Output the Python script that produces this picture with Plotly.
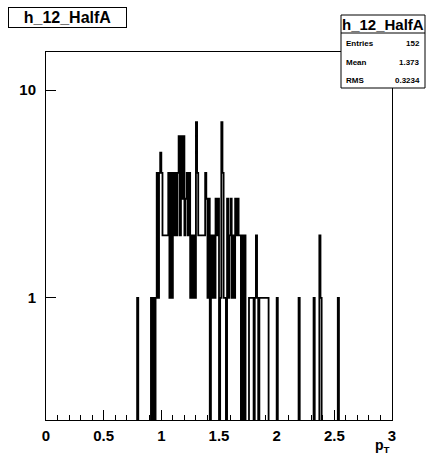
import plotly.graph_objects as go
import numpy as np

# ------------------------------------------------------------------------
# Histogram contents (bin width 0.01, range 0..3)

hist_name = "h_12_HalfA"
bin_width = 0.01
x_min, x_max = 0.0, 3.0

bin_low = [0.79, 0.91, 0.93, 0.95, 0.96, 0.97, 0.98, 0.99, 1.00, 1.01, 1.02, 1.03, 1.04, 1.05,
           1.06, 1.07, 1.08, 1.09, 1.10, 1.11, 1.12, 1.13, 1.14, 1.15, 1.16, 1.17, 1.18, 1.19,
           1.20, 1.21, 1.22, 1.23, 1.24, 1.25, 1.26, 1.27, 1.28, 1.29, 1.30, 1.31, 1.32, 1.33,
           1.34, 1.35, 1.36, 1.37, 1.38, 1.39, 1.40, 1.41, 1.43, 1.44, 1.45, 1.46, 1.47, 1.48,
           1.49, 1.51, 1.52, 1.53, 1.54, 1.55, 1.57, 1.58, 1.59, 1.60, 1.61, 1.62, 1.63, 1.64,
           1.65, 1.66, 1.67, 1.68, 1.70, 1.72, 1.76, 1.77, 1.78, 1.79, 1.81, 1.82, 1.83, 1.85,
           1.86, 1.87, 1.88, 1.89, 1.90, 1.91, 1.92, 2.00, 2.19, 2.32, 2.37, 2.38, 2.53]
bin_count = [1, 1, 1, 1, 4, 1, 4, 5, 4, 2, 2, 2, 2, 2,
             4, 1, 4, 1, 4, 2, 4, 2, 4, 6, 2, 6, 3, 6,
             2, 3, 4, 2, 4, 1, 2, 1, 2, 1, 7, 4, 2, 2,
             2, 2, 2, 2, 4, 3, 1, 3, 2, 1, 2, 1, 3, 2,
             3, 1, 7, 4, 1, 1, 3, 1, 2, 3, 1, 2, 1, 3,
             2, 3, 2, 2, 2, 2, 1, 1, 1, 1, 1, 2, 1, 1,
             1, 1, 1, 1, 1, 1, 1, 1, 1, 1, 2, 1, 1]

stat_labels = ["Entries", "Mean", "RMS"]
stat_values = ["152", "1.373", "0.3234"]

x_tick_vals = [0, 0.5, 1, 1.5, 2, 2.5, 3]
x_tick_text = ["0", "0.5", "1", "1.5", "2", "2.5", "3"]
y_tick_vals = [1, 10]
y_tick_text = ["1", "10"]

# ------------------------------------------------------------------------

W, H = 426, 459
# frame edges in pixels: left 46, right 392, top 52, bottom 420
m_l, m_r, m_t, m_b = 46, 426 - 392, 52, 459 - 420
pw, ph = W - m_l - m_r, H - m_t - m_b


def px(xpix):
    # pixel -> paper x
    return (xpix - m_l) / pw


def py(ypix):
    # pixel -> paper y
    return (H - m_b - ypix) / ph


n_bins = int(round((x_max - x_min) / bin_width))
counts = np.zeros(n_bins)
for lo, c in zip(bin_low, bin_count):
    counts[int(round((lo - x_min) / bin_width))] = c

edges = x_min + np.arange(n_bins + 1) * bin_width
y_draw = np.where(counts > 0, counts, 1e-3)  # empty bins fall below the frame
y_draw = np.append(y_draw, y_draw[-1])

fig = go.Figure()
fig.add_trace(go.Scatter(x=edges, y=y_draw, mode="lines", line_shape="hv",
                         line=dict(color="black", width=1.8), hoverinfo="skip", showlegend=False))

font_main = "Liberation Sans, Arial, sans-serif"

fig.update_layout(
    width=W, height=H,
    margin=dict(l=m_l, r=m_r, t=m_t, b=m_b, autoexpand=False),
    paper_bgcolor="white", plot_bgcolor="white",
    showlegend=False,
    font=dict(family=font_main, color="black"),
    xaxis=dict(range=[x_min, x_max], showgrid=False, zeroline=False,
               showline=True, linecolor="black", linewidth=1, mirror=True,
               ticks="inside", ticklen=10, tickwidth=1, tickcolor="black",
               tickvals=x_tick_vals, ticktext=["<b>%s</b>" % t for t in x_tick_text],
               tickfont=dict(size=15), ticklabelstandoff=2,
               minor=dict(tickvals=[round(0.1 * i, 1) for i in range(31)], ticklen=5,
                          ticks="inside", tickcolor="black")),
    yaxis=dict(type="log", range=[-0.587, 1.183], showgrid=False, zeroline=False,
               showline=True, linecolor="black", linewidth=1, mirror=True,
               ticks="inside", ticklen=10, tickwidth=1, tickcolor="black",
               tickvals=y_tick_vals, ticktext=["<b>%s</b>" % t for t in y_tick_text],
               tickfont=dict(size=15), ticklabelstandoff=6),
)

# title box top left
fig.add_annotation(xref="paper", yref="paper", x=px(67.5), y=py(17), xanchor="center", yanchor="middle",
                   text="<b>%s</b>" % hist_name, showarrow=False, font=dict(size=16), width=115, height=17,
                   bordercolor="black", borderwidth=1, borderpad=1, bgcolor="white")

# stats box
box_l, box_r, box_t, box_b, box_mid = 341, 425, 15, 88, 33
fig.add_shape(type="rect", xref="paper", yref="paper", x0=px(box_l), x1=px(box_r),
              y0=py(box_b), y1=py(box_t), line=dict(color="black", width=1), fillcolor="white")
fig.add_shape(type="line", xref="paper", yref="paper", x0=px(box_l), x1=px(box_r),
              y0=py(box_mid), y1=py(box_mid), line=dict(color="black", width=1))
fig.add_annotation(xref="paper", yref="paper", x=px((box_l + box_r) / 2), y=py(24.5),
                   xanchor="center", yanchor="middle",
                   text="<b>%s</b>" % hist_name, showarrow=False, font=dict(size=15))
for i, (lab, val) in enumerate(zip(stat_labels, stat_values)):
    yrow = 44 + i * 18
    fig.add_annotation(xref="paper", yref="paper", x=px(344), y=py(yrow), xanchor="left", yanchor="middle",
                       text="<b>%s</b>" % lab, showarrow=False, font=dict(size=8))
    fig.add_annotation(xref="paper", yref="paper", x=px(422), y=py(yrow), xanchor="right", yanchor="middle",
                       text="<b>%s</b>" % val, showarrow=False, font=dict(size=8))

# axis title
fig.add_annotation(xref="paper", yref="paper", x=px(392), y=py(446), xanchor="right", yanchor="middle",
                   text="<b>p<sub>T</sub></b>", showarrow=False, font=dict(size=14))

# drop the default page margin so the figure sits at the window origin
fig.write_html("out.html", config={"displayModeBar": False},
               post_script="document.body.style.margin='0';document.body.style.overflow='hidden';")
